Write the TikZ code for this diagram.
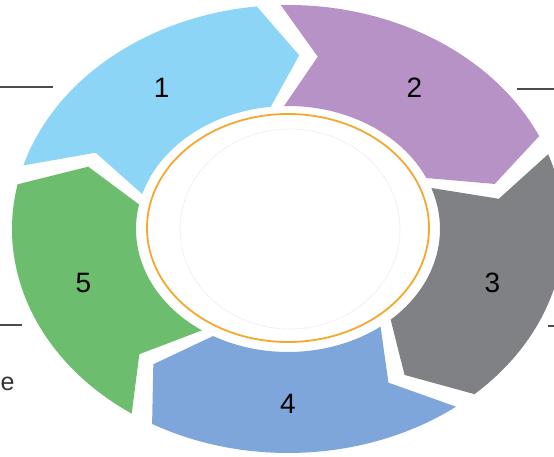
\documentclass[tikz,border=0pt]{standalone}
\usepackage{fontspec}
\setmainfont{Liberation Sans}
\definecolor{segA}{RGB}{141,213,246}
\definecolor{segB}{RGB}{182,146,198}
\definecolor{segC}{RGB}{128,129,132}
\definecolor{segD}{RGB}{126,166,218}
\definecolor{segE}{RGB}{108,190,110}
\definecolor{ringorange}{RGB}{244,168,48}

\begin{document}
\begin{tikzpicture}[x=1pt, y=1pt, every node/.style={font=\fontsize{28}{30}\selectfont},
  rule/.style={draw=black!70, line width=2pt}]
  \clip (0,0) rectangle (554,456);
  \fill[white] (0,0) rectangle (554,456);
  \coordinate (O) at (288,227);

  % 五つの矢印 (時計回り)
  \foreach \i/\col in {1/segA,2/segB,3/segC,4/segD,5/segE}{
    \pgfmathsetmacro\hi{166-72*(\i-1)-2.5}
    \pgfmathsetmacro\lo{\hi-67}
    \pgfmathsetmacro\tip{\lo-9.5}
    \pgfmathsetmacro\notch{\hi-9.5}
    \pgfmathsetmacro\lab{\hi-37.5}
    \fill[\col, shift={(O)}] (\hi:276 and 224)
      arc[start angle=\hi, end angle=\lo, x radius=276, y radius=224]
      -- (\tip:214 and 174) -- (\lo:152 and 123)
      arc[start angle=\lo, end angle=\hi, x radius=152, y radius=123]
      -- (\notch:214 and 174) -- cycle;
    \path[shift={(O)}] (\lab:215 and 175) node (n\i) {\i};
  }

  % 中央の楕円
  \draw[ringorange, line width=1.8pt, fill=white] (288,228) ellipse [x radius=141, y radius=114];
  \draw[black!10, densely dotted, line width=0.8pt] (290,227) ellipse [x radius=110, y radius=100];

  % 左右の引き出し線
  \draw[rule] (0,369) -- (53,369);
  \draw[rule] (517,367) -- (554,367);
  \draw[rule] (0,131) -- (22,131);
  \draw[rule] (548,130) -- (554,130);

  % 左下の文字
  \node[anchor=base west, inner sep=0pt, text=black!80, font=\fontsize{25}{27}\selectfont] (frag) at (0.5,66) {e};
\end{tikzpicture}
\end{document}
